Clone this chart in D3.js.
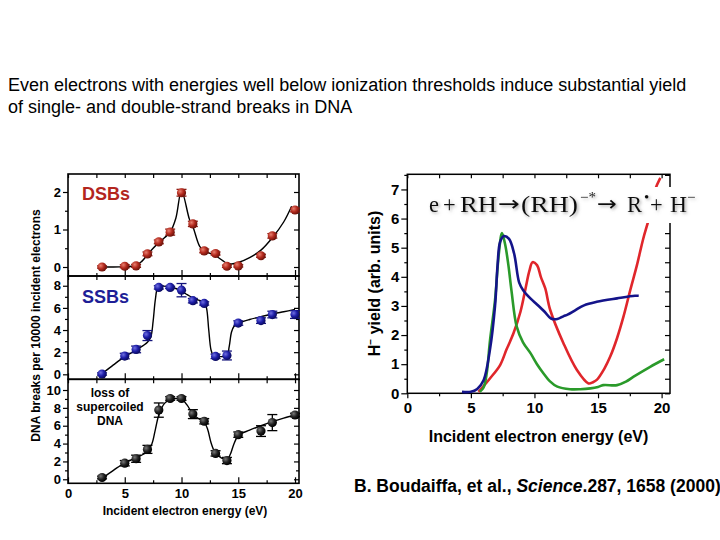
<!DOCTYPE html>
<html><head><meta charset="utf-8">
<script src="https://cdn.jsdelivr.net/npm/d3@7"></script>
<style>body{margin:0;background:#fff}svg{display:block;font-family:Arial,"Liberation Sans",sans-serif}</style>
</head><body><svg id="c" width="720" height="540"></svg>
<script>
// ---------- DATA ----------
const titleLines = ["Even electrons with energies well below ionization thresholds induce substantial yield",
                    "of single- and double-strand breaks in DNA"];
const energies   = [3,5,6,7,8,9,10,11,12,13,14,15,17,18,20];
const dsbValues  = [0,0.02,0.03,0.35,0.67,0.93,1.98,1.15,0.43,0.36,0.02,0.03,0.3,0.83,1.52];
const dsbErrors  = [0.03,0.04,0.04,0.05,0.05,0.08,0.09,0.07,0.05,0.04,0.03,0.03,0.04,0.06,0.05];
const ssbValues  = [0.03,1.65,2.25,3.5,7.85,7.85,7.6,6.65,6.4,1.62,1.7,4.63,4.85,5.4,5.4];
const ssbErrors  = [0.1,0.25,0.3,0.45,0.15,0.1,0.6,0.2,0.15,0.2,0.4,0.2,0.25,0.3,0.35];
const lossValues = [0.2,1.8,2.3,3.35,7.75,9.05,9.05,7.3,6.5,2.9,2.1,5.0,5.4,6.35,7.2];
const lossErrors = [0.15,0.3,0.4,0.45,0.8,0.2,0.2,0.5,0.3,0.3,0.35,0.3,0.6,0.9,0.2];

const dsbFitE  = [3,4,5,6,6.5,7,7.5,8,8.5,9,9.5,10,10.7,11,11.6,12,13,14,14.4,15,16,17,18,19,19.7];
const dsbFitV  = [0,0,0.01,0.04,0.15,0.33,0.5,0.65,0.78,0.93,1.3,2.03,1.27,1.08,0.55,0.43,0.3,0.1,0.08,0.12,0.25,0.45,0.78,1.2,1.62];
const ssbFitE  = [3,4,5,6,7,7.3,7.5,7.7,7.9,8.2,9,9.5,10,10.5,11,11.5,12,12.2,12.4,12.6,12.8,13,13.5,14,14.2,14.4,14.6,15,16,17,18,19,20];
const ssbFitV  = [0.05,0.85,1.6,2.2,2.9,3.4,4.8,6.8,7.8,7.95,7.9,7.75,7.5,7.2,6.9,6.7,6.5,6.0,4.0,2.2,1.7,1.6,1.6,1.65,2.5,3.8,4.3,4.6,4.95,5.2,5.45,5.65,5.85];
const lossFitE = [3,4,5,6,7,7.4,7.7,8,8.5,9,9.5,10,10.5,11,11.5,12,12.3,12.6,13,13.5,14,14.3,14.6,15,16,17,18,19,20];
const lossFitV = [0.1,1.0,1.85,2.4,3.1,4.0,5.6,7.2,8.5,8.95,9.05,9.0,8.3,7.3,6.8,6.4,5.6,4.1,2.9,2.4,2.2,2.8,3.9,4.9,5.5,6.0,6.45,6.85,7.2];

const leftXTicks  = [0,5,10,15,20];
const dsbTicks    = [0,1,2];
const ssbTicks    = [0,2,4,6,8];
const lossTicks   = [0,2,4,6,8,10];

const blueE  = [4.3,5.0,5.5,6.0,6.5,6.9,7.1,7.3,7.6,8.0,8.4,8.8,9.1,9.7,10.2,10.8,11.3,11.8,12.3,12.6,13.2,13.9,14.9,16.5,17.9,18.2];
const blueV  = [0.05,0.05,0.15,0.45,1.5,3.0,4.4,5.2,5.4,5.3,4.8,3.8,3.55,3.25,3.05,2.8,2.57,2.55,2.65,2.7,2.85,3.02,3.14,3.26,3.35,3.35];
const greenE = [5.7,6.0,6.25,6.5,6.9,7.2,7.45,7.7,7.95,8.2,8.6,9.1,9.7,10.2,10.7,11.2,11.8,12.8,13.6,14.4,15.0,15.4,16.5,17.2,17.8,19.1,20.2];
const greenV = [0.05,0.2,0.7,1.8,3.2,4.8,5.5,5.1,4.4,3.5,2.3,1.75,1.37,1.0,0.69,0.42,0.23,0.14,0.14,0.17,0.22,0.28,0.28,0.4,0.57,0.91,1.17];
const redE   = [5.6,6.0,6.5,7.3,7.8,8.35,8.9,9.3,9.6,9.85,10.2,10.5,10.85,11.24,12.28,13.34,14.25,14.6,14.9,15.5,15.96,16.5,17.0,17.54,18.06,18.55,19.0,19.5,19.9];
const redV   = [0.05,0.25,0.51,0.97,1.5,2.06,2.8,3.6,4.2,4.5,4.4,4.0,3.6,2.86,1.72,0.8,0.34,0.38,0.46,0.85,1.26,1.9,2.63,3.55,4.4,5.3,6.0,7.0,7.4];
const rightXTicks = [0,5,10,15,20];
const rightYTicks = [0,1,2,3,4,5,6,7];

const equationParts = ["e","+","RH","\u2192","(RH)","\u2212*","\u2192","R","\u2022","+","H","\u2212"];
const citation = ["B. Boudaiffa, et al., ", "Science", ".287, 1658 (2000)"];

// ---------- DRAW ----------
const svg = d3.select("#c");
const defs = svg.append("defs");
function grad(id, hi, mid, lo){
  const g = defs.append("radialGradient").attr("id", id).attr("cx","35%").attr("cy","35%").attr("r","65%");
  g.append("stop").attr("offset","0%").attr("stop-color", hi);
  g.append("stop").attr("offset","55%").attr("stop-color", mid);
  g.append("stop").attr("offset","100%").attr("stop-color", lo);
}
grad("gRed", "#e88070", "#b32a1e", "#6e140c");
grad("gBlue", "#6f6fe0", "#1d1da6", "#0b0b60");
grad("gBlack", "#777", "#222", "#000");
const sh = defs.append("filter").attr("id","shadow").attr("x","-10%").attr("y","-30%").attr("width","120%").attr("height","160%");
sh.append("feDropShadow").attr("dx",1.5).attr("dy",1.5).attr("stdDeviation",1.5).attr("flood-color","#777").attr("flood-opacity",0.6);

// title
svg.append("g").selectAll("text").data(titleLines).join("text")
  .attr("x", 8).attr("y", (d,i)=> 91 + i*22)
  .attr("font-size", 18).attr("fill","#000").text(d=>d);

// ---------- LEFT CHART ----------
const xL = d3.scaleLinear().domain([0, 20.35]).range([68, 299]);
const panels = [
  {vals: dsbValues, errs: dsbErrors, fe: dsbFitE, fv: dsbFitV, ticks: dsbTicks, minor: [0.5,1.5],
   y: d3.scaleLinear().domain([-0.24, 2.48]).range([276, 174]), fill: "url(#gRed)", ec: "#8a1a12"},
  {vals: ssbValues, errs: ssbErrors, fe: ssbFitE, fv: ssbFitV, ticks: ssbTicks, minor: [1,3,5,7],
   y: d3.scaleLinear().domain([-0.45, 8.88]).range([379.3, 276]), fill: "url(#gBlue)", ec: "#14147a"},
  {vals: lossValues, errs: lossErrors, fe: lossFitE, fv: lossFitV, ticks: lossTicks, minor: [1,3,5,7,9],
   y: d3.scaleLinear().domain([-0.45, 11.2]).range([483.3, 379.3]), fill: "url(#gBlack)", ec: "#000"}
];
const xMinorL = [2.5,7.5,12.5,17.5];
const L = svg.append("g");
panels.forEach((p, pi) => {
  const g = L.append("g");
  const [yb, yt] = p.y.range();
  const clean = s => { s.select(".domain").remove(); s.selectAll("line").attr("stroke","#000").attr("stroke-width",1.2); };
  g.append("g").attr("transform","translate(68,0)")
    .call(d3.axisLeft(p.y).tickValues(p.ticks).tickSize(5).tickPadding(2).tickFormat(d3.format("d")))
    .call(clean).selectAll("text").attr("font-size",13).attr("font-weight","bold").attr("fill","#000")
    .attr("font-family","Arial, 'Liberation Sans', sans-serif");
  g.append("g").attr("transform","translate(68,0)")
    .call(d3.axisLeft(p.y).tickValues(p.minor).tickSize(3).tickFormat("")).call(clean);
  g.append("g").attr("transform","translate(299,0)")
    .call(d3.axisRight(p.y).tickValues(p.ticks).tickSize(-5).tickFormat("")).call(clean);
  g.append("g").attr("transform","translate(299,0)")
    .call(d3.axisRight(p.y).tickValues(p.minor).tickSize(-3).tickFormat("")).call(clean);
  g.append("g").attr("transform",`translate(0,${yt})`)
    .call(d3.axisTop(xL).tickValues(leftXTicks.concat(xMinorL)).tickSize(-4).tickFormat("")).call(clean);
  g.append("g").attr("transform",`translate(0,${yb})`)
    .call(d3.axisBottom(xL).tickValues(leftXTicks).tickSize(-6).tickFormat("")).call(clean);
  g.append("g").attr("transform",`translate(0,${yb})`)
    .call(d3.axisBottom(xL).tickValues(xMinorL).tickSize(-3).tickFormat("")).call(clean);
  g.append("rect").attr("x",68).attr("y",yt).attr("width",231).attr("height",yb-yt)
    .attr("fill","none").attr("stroke","#000").attr("stroke-width",1.6);
  const line = d3.line().x(d=>xL(d[0])).y(d=>p.y(d[1])).curve(d3.curveCatmullRom.alpha(0.5));
  g.append("path").datum(p.fe.map((e,i)=>[e,p.fv[i]])).attr("d", line)
    .attr("fill","none").attr("stroke","#000").attr("stroke-width",1.4);
  const pts = energies.map((e,i)=>({e, v:p.vals[i], s:p.errs[i]}));
  const eb = g.append("g").attr("stroke", p.ec).attr("stroke-width",1.3);
  eb.selectAll(".v").data(pts).join("line").attr("x1",d=>xL(d.e)).attr("x2",d=>xL(d.e))
    .attr("y1",d=>p.y(d.v-d.s)).attr("y2",d=>p.y(d.v+d.s));
  [-1,1].forEach(sg => eb.selectAll(".c"+sg).data(pts).join("line")
    .attr("x1",d=>xL(d.e)-5).attr("x2",d=>xL(d.e)+5)
    .attr("y1",d=>p.y(d.v+sg*d.s)).attr("y2",d=>p.y(d.v+sg*d.s)));
  g.selectAll("circle").data(pts).join("circle").attr("cx",d=>xL(d.e)).attr("cy",d=>p.y(d.v))
    .attr("r",4.6).attr("fill",p.fill);
});
L.append("g").attr("transform","translate(0,483.3)")
  .call(d3.axisBottom(xL).tickValues(leftXTicks).tickSize(0).tickPadding(5.5))
  .call(s=>{s.select(".domain").remove(); s.selectAll("line").remove();})
  .selectAll("text").attr("font-size",13).attr("font-weight","bold").attr("fill","#000")
  .attr("font-family","Arial, 'Liberation Sans', sans-serif");
L.append("text").attr("x",82).attr("y",200).attr("font-size",18).attr("font-weight","bold").attr("fill","#b3261e").text("DSBs");
L.append("text").attr("x",82).attr("y",302.7).attr("font-size",18).attr("font-weight","bold").attr("fill","#1e1e96").text("SSBs");
L.append("g").selectAll("text").data(["loss of","supercoiled","DNA"]).join("text")
  .attr("x",110).attr("y",(d,i)=>397+i*14).attr("text-anchor","middle")
  .attr("font-size",12).attr("font-weight","bold").text(d=>d);
L.append("text").attr("x",185).attr("y",515).attr("text-anchor","middle").attr("font-size",12).attr("font-weight","bold")
  .text("Incident electron energy (eV)");
L.append("text").attr("transform","translate(40,325.5) rotate(-90)").attr("text-anchor","middle")
  .attr("font-size",12).attr("font-weight","bold").text("DNA breaks per 10000 incident electrons");

// ---------- RIGHT CHART ----------
const xR = d3.scaleLinear().domain([0, 20.66]).range([407.3, 670]);
const yR = d3.scaleLinear().domain([0, 7.52]).range([393.3, 174.3]);
const R = svg.append("g");
const cleanR = s => { s.select(".domain").remove(); s.selectAll("line").attr("stroke","#000").attr("stroke-width",1.2); };
const rMinorY = rightYTicks.map(d=>d+0.5);
const rMinorX = [2.5,7.5,12.5,17.5];
R.append("g").attr("transform","translate(407.3,0)")
  .call(d3.axisLeft(yR).tickValues(rightYTicks).tickSize(6).tickPadding(2))
  .call(cleanR).selectAll("text").attr("font-size",15).attr("font-weight","bold").attr("fill","#000")
  .attr("font-family","Arial, 'Liberation Sans', sans-serif");
R.append("g").attr("transform","translate(407.3,0)")
  .call(d3.axisLeft(yR).tickValues(rMinorY).tickSize(3).tickFormat("")).call(cleanR);
R.append("g").attr("transform","translate(670,0)")
  .call(d3.axisRight(yR).tickValues(rightYTicks.concat(rMinorY)).tickSize(-5).tickFormat("")).call(cleanR);
R.append("g").attr("transform","translate(0,393.3)")
  .call(d3.axisBottom(xR).tickValues(rightXTicks).tickSize(5).tickPadding(4.5))
  .call(cleanR).selectAll("text").attr("font-size",15).attr("font-weight","bold").attr("fill","#000")
  .attr("font-family","Arial, 'Liberation Sans', sans-serif");
R.append("g").attr("transform","translate(0,393.3)")
  .call(d3.axisBottom(xR).tickValues(rMinorX).tickSize(3).tickFormat("")).call(cleanR);
R.append("g").attr("transform","translate(0,174.3)")
  .call(d3.axisTop(xR).tickValues(rightXTicks.concat(rMinorX)).tickSize(-4).tickFormat("")).call(cleanR);
R.append("rect").attr("x",407.3).attr("y",174.3).attr("width",670-407.3).attr("height",393.3-174.3)
  .attr("fill","none").attr("stroke","#000").attr("stroke-width",1.5);
const lineR = d3.line().x(d=>xR(d[0])).y(d=>yR(d[1])).curve(d3.curveCatmullRom.alpha(0.5));
[[redE, redV, "#e0262b"],[greenE, greenV, "#2a9a2a"],[blueE, blueV, "#14148a"]].forEach(([E,V,c])=>{
  R.append("path").datum(E.map((e,i)=>[e,V[i]])).attr("d",lineR)
    .attr("fill","none").attr("stroke",c).attr("stroke-width",2.6).attr("stroke-linejoin","round");
});
// equation box + equation
R.append("rect").attr("x",420).attr("y",187).attr("width",290).attr("height",36).attr("fill","#fff");
const serif = "'Liberation Serif','Times New Roman',serif";
const arrowFont = "'DejaVu Sans',sans-serif";
const eqX    = [429,443,460,498,521,580,597,627,644,650,670,687];
const eqKind = ["n","n","n","a","n","s","a","n","s","n","n","s"];
const eqLen  = [null,null,37,22,57,null,20,null,null,null,17,null];
const eqG = R.append("g").attr("filter","url(#shadow)");
eqG.selectAll("text").data(equationParts).join("text")
  .attr("x",(d,i)=>eqX[i])
  .attr("y",(d,i)=> 211.7 + (eqKind[i]==="s" ? -10 : (eqKind[i]==="a" ? -1 : 0)))
  .attr("font-family",(d,i)=> eqKind[i]==="a" ? arrowFont : serif)
  .attr("font-size",(d,i)=> eqKind[i]==="s" ? 15 : (eqKind[i]==="a" ? 21 : 22.5))
  .attr("fill","#111")
  .each(function(d,i){ if(eqLen[i]) d3.select(this).attr("textLength",eqLen[i]).attr("lengthAdjust","spacingAndGlyphs"); })
  .text(d=>d);
// axis titles
R.append("text").attr("x",538.5).attr("y",441.7).attr("text-anchor","middle").attr("font-size",16).attr("font-weight","bold")
  .text("Incident electron energy (eV)");
const yt = R.append("text").attr("transform","translate(380,283.5) rotate(-90)").attr("text-anchor","middle")
  .attr("font-size",16).attr("font-weight","bold");
yt.append("tspan").text("H");
yt.append("tspan").attr("dy",-6).attr("font-size",10).text("\u2212");
yt.append("tspan").attr("dy",6).text(" yield (arb. units)");

// citation
const ct = svg.append("text").attr("x",354).attr("y",491.7).attr("font-size",17.5).attr("font-weight","bold");
ct.append("tspan").text(citation[0]);
ct.append("tspan").attr("font-style","italic").text(citation[1]);
ct.append("tspan").text(citation[2]);
</script></body></html>
